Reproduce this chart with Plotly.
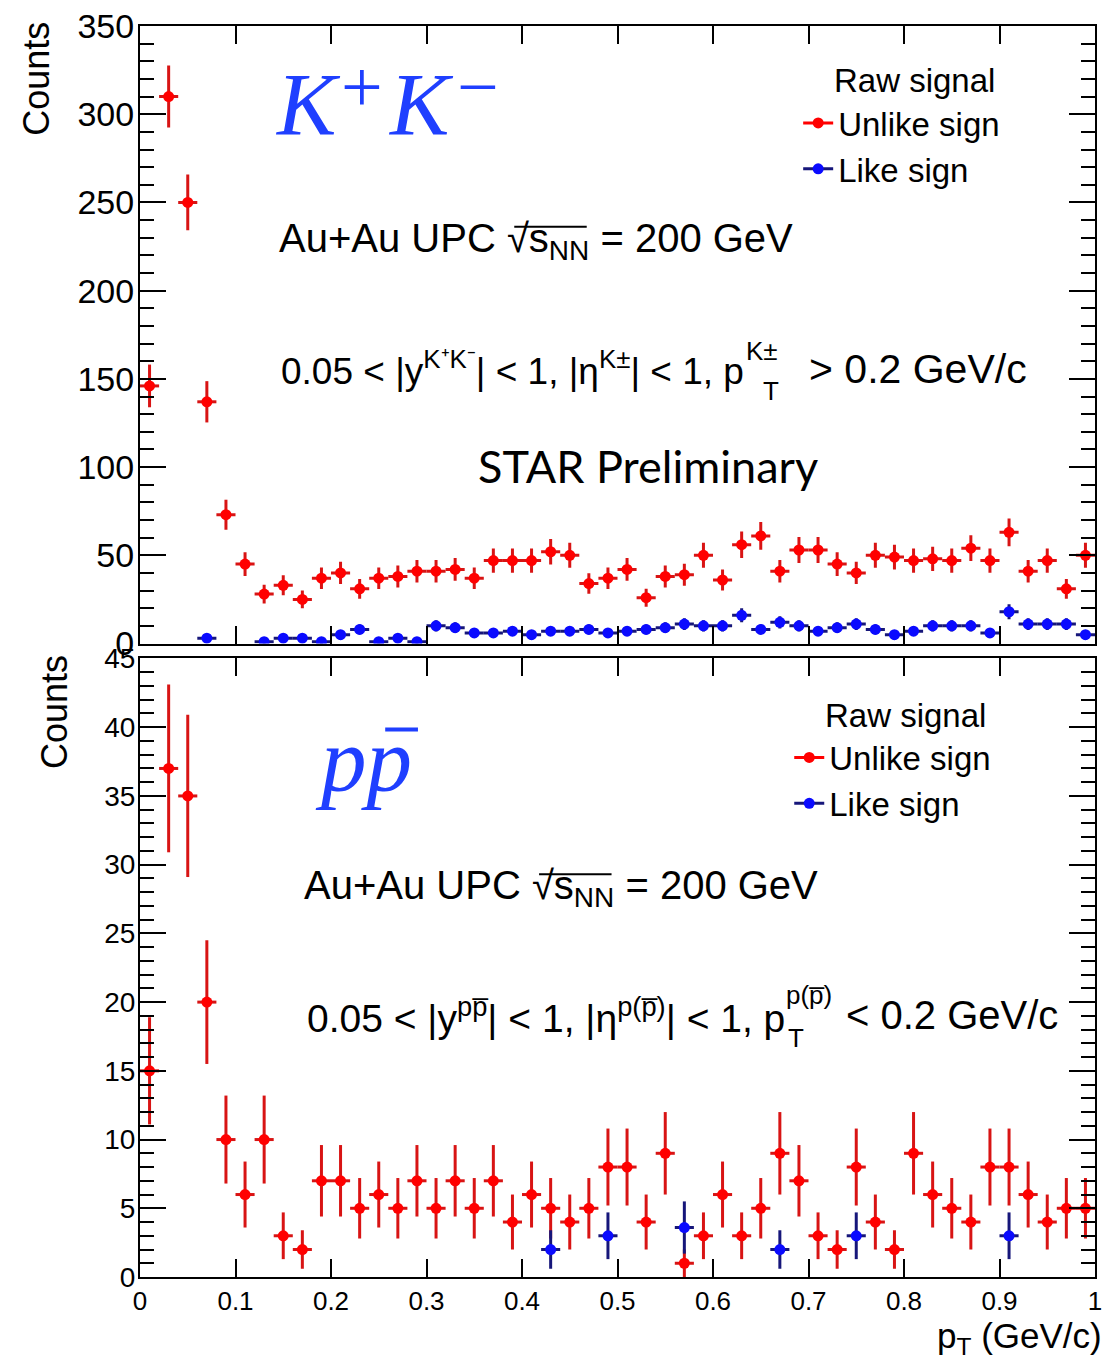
import plotly.graph_objects as go

# pT bin centres (GeV/c), bin width 0.02
pt_bins = [0.01, 0.03, 0.05, 0.07, 0.09, 0.11, 0.13, 0.15, 0.17, 0.19,
           0.21, 0.23, 0.25, 0.27, 0.29, 0.31, 0.33, 0.35, 0.37, 0.39,
           0.41, 0.43, 0.45, 0.47, 0.49, 0.51, 0.53, 0.55, 0.57, 0.59,
           0.61, 0.63, 0.65, 0.67, 0.69, 0.71, 0.73, 0.75, 0.77, 0.79,
           0.81, 0.83, 0.85, 0.87, 0.89, 0.91, 0.93, 0.95, 0.97, 0.99]
half_bin = 0.01

# K+K- raw signal
kk_unlike = [146, 310, 250, 137, 73, 45, 28, 33, 25, 37,
             40, 31, 37, 38, 41, 41, 42, 37, 47, 47,
             47, 52, 50, 34, 37, 42, 26, 38, 39, 50,
             36, 56, 61, 41, 53, 53, 45, 40, 50, 49,
             47, 48, 47, 54, 47, 63, 41, 47, 31, 50]
kk_unlike_err = [12.1, 17.6, 15.8, 11.7, 8.5, 6.7, 5.3, 5.7, 5.0, 6.1,
                 6.3, 5.6, 6.1, 6.2, 6.4, 6.4, 6.5, 6.1, 6.9, 6.9,
                 6.9, 7.2, 7.1, 5.8, 6.1, 6.5, 5.1, 6.2, 6.2, 7.1,
                 6.0, 7.5, 7.8, 6.4, 7.3, 7.3, 6.7, 6.3, 7.1, 7.0,
                 6.9, 6.9, 6.9, 7.3, 6.9, 7.9, 6.4, 6.9, 5.6, 7.1]
kk_like = [None, None, None, 3, None, None, 1, 3, 3, 1,
           5, 8, 1, 3, 1, 10, 9, 6, 6, 7,
           5, 7, 7, 8, 6, 7, 8, 9, 11, 10,
           10, 16, 8, 12, 10, 7, 9, 11, 8, 5,
           7, 10, 10, 10, 6, 18, 11, 11, 11, 5]
kk_like_err = [None, None, None, 1.7, None, None, 1.0, 1.7, 1.7, 1.0,
               2.2, 2.8, 1.0, 1.7, 1.0, 3.2, 3.0, 2.4, 2.4, 2.6,
               2.2, 2.6, 2.6, 2.8, 2.4, 2.6, 2.8, 3.0, 3.3, 3.2,
               3.2, 4.0, 2.8, 3.5, 3.2, 2.6, 3.0, 3.3, 2.8, 2.2,
               2.6, 3.2, 3.2, 3.2, 2.4, 4.2, 3.3, 3.3, 3.3, 2.2]

# p pbar raw signal
pp_unlike = [15, 37, 35, 20, 10, 6, 10, 3, 2, 7,
             7, 5, 6, 5, 7, 5, 7, 5, 7, 4,
             6, 5, 4, 5, 8, 8, 4, 9, 1, 3,
             6, 3, 5, 9, 7, 3, 2, 8, 4, 2,
             9, 6, 5, 4, 8, 8, 6, 4, 5, 5]
pp_unlike_err = [3.9, 6.1, 5.9, 4.5, 3.2, 2.4, 3.2, 1.7, 1.4, 2.6,
                 2.6, 2.2, 2.4, 2.2, 2.6, 2.2, 2.6, 2.2, 2.6, 2.0,
                 2.4, 2.2, 2.0, 2.2, 2.8, 2.8, 2.0, 3.0, 1.0, 1.7,
                 2.4, 1.7, 2.2, 3.0, 2.6, 1.7, 1.4, 2.8, 2.0, 1.4,
                 3.0, 2.4, 2.2, 2.0, 2.8, 2.8, 2.4, 2.0, 2.2, 2.2]
pp_like_pt = [0.43, 0.49, 0.57, 0.67, 0.75, 0.91]
pp_like = [2, 3, 3.6, 2, 3, 3]
pp_like_err = [1.4, 1.7, 1.9, 1.4, 1.7, 1.7]

RED = "#ff0000"
RED_BAR = "#d81414"
BLUE = "#0a0aff"
BLUE_BAR = "#16167a"
TEXT_BLUE = "#1f3fff"
FONT = "Liberation Sans, Arial, sans-serif"
SERIF = "Liberation Serif, Times New Roman, serif"

# plot-area pixel frame used to place text in paper coordinates
W, H = 1109, 1367
PL, PR, PT, PB = 140, 1102, 25, 1277


def fx(px):
    return (px - PL) / (PR - PL)


def fy(py):
    return (PB - py) / (PB - PT)


def hist_points(x, y, err, color, bar_color, xa, ya):
    return go.Scatter(
        x=x, y=y, xaxis=xa, yaxis=ya, mode="markers",
        marker=dict(color=color, size=11, symbol="circle"),
        error_y=dict(type="data", array=err, color=bar_color, thickness=3, width=0),
        error_x=dict(type="constant", value=half_bin, color=bar_color, thickness=3, width=0),
        showlegend=False, hoverinfo="x+y",
    )


def legend_proxy(name, color, line_color, legend):
    return go.Scatter(
        x=[None], y=[None], mode="lines+markers", name=name,
        marker=dict(color=color, size=11), line=dict(color=line_color, width=3),
        legend=legend, showlegend=True,
    )


fig = go.Figure()
fig.add_trace(hist_points(pt_bins, kk_unlike, kk_unlike_err, RED, RED_BAR, "x", "y"))
fig.add_trace(hist_points(pt_bins, kk_like, kk_like_err, BLUE, BLUE_BAR, "x", "y"))
fig.add_trace(hist_points(pt_bins, pp_unlike, pp_unlike_err, RED, RED_BAR, "x2", "y2"))
fig.add_trace(hist_points(pp_like_pt, pp_like, pp_like_err, BLUE, BLUE_BAR, "x2", "y2"))

fig.add_trace(legend_proxy("Unlike sign", RED, RED, "legend"))
fig.add_trace(legend_proxy("Like sign", BLUE, BLUE_BAR, "legend"))
fig.add_trace(legend_proxy("Unlike sign", RED, RED, "legend2"))
fig.add_trace(legend_proxy("Like sign", BLUE, BLUE_BAR, "legend2"))

axis_common = dict(
    showline=True, linecolor="black", linewidth=2, mirror="allticks",
    ticks="inside", tickcolor="black", tickwidth=2,
    showgrid=False, zeroline=False,
    tickfont=dict(family=FONT, size=26, color="black"),
)
minor_common = dict(ticks="inside", tickcolor="black", tickwidth=2, showgrid=False)

fig.update_layout(
    width=W, height=H,
    margin=dict(l=PL, r=W - PR, t=PT, b=H - PB),
    paper_bgcolor="white", plot_bgcolor="white",
    font=dict(family=FONT, color="black"),
    xaxis=dict(axis_common, domain=[0, 1], range=[0, 1], tick0=0, dtick=0.1,
               ticklen=18, anchor="y", matches="x2", showticklabels=False),
    yaxis=dict(axis_common, domain=[fy(643), 1], range=[0, 350], tick0=0, dtick=50,
               ticklen=26, anchor="x", ticklabelstandoff=-3,
               tickfont=dict(family=FONT, size=34, color="black"),
               minor=dict(minor_common, dtick=10, ticklen=14)),
    xaxis2=dict(axis_common, domain=[0, 1], range=[0, 1], tick0=0, dtick=0.1,
                ticklen=18, anchor="y2"),
    yaxis2=dict(axis_common, domain=[0, fy(658)], range=[0, 45], tick0=0, dtick=5,
                ticklen=26, anchor="x2", ticklabelstandoff=-3,
                tickfont=dict(family=FONT, size=28, color="black"),
                minor=dict(minor_common, dtick=1, ticklen=14)),
    legend=dict(x=fx(803), y=fy(94), xanchor="left", yanchor="top",
                font=dict(family=FONT, size=33, color="black"),
                bgcolor="rgba(0,0,0,0)", borderwidth=0),
    legend2=dict(x=fx(794), y=fy(729), xanchor="left", yanchor="top",
                 font=dict(family=FONT, size=33, color="black"),
                 bgcolor="rgba(0,0,0,0)", borderwidth=0),
)

annotations = []


def text(s, px, py, size, color="black", family=FONT, xanchor="left", yanchor="middle", angle=0):
    annotations.append(dict(
        text=s, x=fx(px), y=fy(py), xref="paper", yref="paper",
        xanchor=xanchor, yanchor=yanchor, showarrow=False, textangle=angle,
        font=dict(family=family, size=size, color=color),
    ))


def overbar(x0, x1, py, color="black", width=2):
    fig.add_shape(type="line", xref="paper", yref="paper",
                  x0=fx(x0), x1=fx(x1), y0=fy(py), y1=fy(py),
                  line=dict(color=color, width=width))


# axis titles
text("Counts", 36, 78, 36, angle=-90, xanchor="center", yanchor="middle")
text("Counts", 54, 712, 36, angle=-90, xanchor="center", yanchor="middle")
text("p<sub>T</sub> (GeV/c)", 1111, 1338, 35, xanchor="right")

# top panel: K+K-
text("<i>K</i>", 274, 103, 89, color=TEXT_BLUE, family=SERIF)
text("+", 340, 86, 74, color=TEXT_BLUE, family=SERIF)
text("<i>K</i>", 388, 103, 89, color=TEXT_BLUE, family=SERIF)
text("\u2212", 457, 86, 74, color=TEXT_BLUE, family=SERIF)
text("Raw signal", 837, 80, 33)
text("Au+Au UPC \u221As<sub>NN</sub> = 200 GeV", 278, 240, 40)
overbar(517, 590, 226)
text("0.05 < |y<sup>K\u207aK\u207b</sup>| < 1, |\u03b7<sup>K\u00b1</sup>| < 1, p", 750, 368, 37, xanchor="right")
text("K\u00b1", 748, 350, 26)
text("T", 766, 390, 26)
text("> 0.2 GeV/c", 812, 368, 41)
text("STAR Preliminary", 478, 465, 45, family="Lato, Open Sans, sans-serif")

# bottom panel: p pbar
text("<i>pp</i>", 314, 760, 91, color=TEXT_BLUE, family=SERIF)
overbar(387, 420, 729, color=TEXT_BLUE, width=4)
text("Raw signal", 828, 715, 33)
text("Au+Au UPC \u221As<sub>NN</sub> = 200 GeV", 303, 888, 40)
overbar(542, 615, 874)
text("0.05 < |y<sup>pp\u0305</sup>| < 1, |\u03b7<sup>p(p\u0305)</sup>| < 1, p", 792, 1015, 39, xanchor="right")
text("p(p\u0305)", 789, 995, 26)
text("T", 791, 1038, 26)
text("< 0.2 GeV/c", 849, 1015, 40)

fig.update_layout(annotations=annotations)

fig.write_html("out.html")
